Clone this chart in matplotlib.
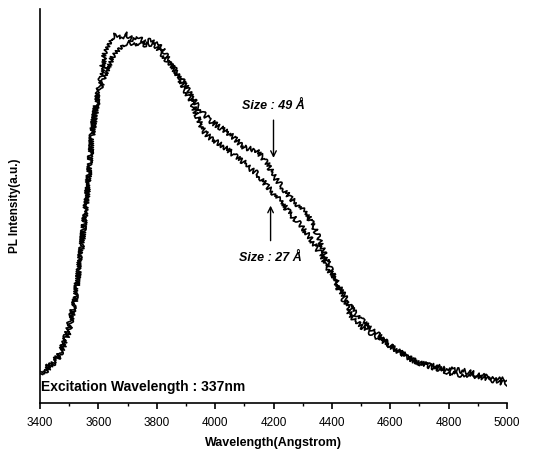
import matplotlib
matplotlib.use("Agg")
import matplotlib.pyplot as plt
import numpy as np

wavelength = list(range(3400, 5001, 20))

size27 = [0.080, 0.088, 0.100, 0.118, 0.150, 0.200, 0.265, 0.380, 0.520, 0.700,
          0.790, 0.880, 0.925, 0.935, 0.930, 0.935, 0.920, 0.925, 0.915, 0.920,
          0.905, 0.885, 0.865, 0.845, 0.820, 0.790, 0.765, 0.725, 0.690, 0.675,
          0.665, 0.655, 0.645, 0.632, 0.620, 0.610, 0.595, 0.585, 0.568, 0.550,
          0.532, 0.515, 0.497, 0.478, 0.462, 0.445, 0.425, 0.402, 0.380, 0.352,
          0.325, 0.295, 0.262, 0.230, 0.208, 0.195, 0.185, 0.175, 0.165, 0.155,
          0.145, 0.135, 0.125, 0.115, 0.108, 0.102, 0.097, 0.092, 0.088, 0.084,
          0.078, 0.074, 0.072, 0.070, 0.068, 0.066, 0.063, 0.060, 0.057, 0.052,
          0.050]

size49 = [0.075, 0.082, 0.095, 0.112, 0.140, 0.185, 0.260, 0.380, 0.515, 0.690,
          0.780, 0.830, 0.865, 0.890, 0.910, 0.915, 0.912, 0.915, 0.910, 0.912,
          0.910, 0.898, 0.870, 0.848, 0.828, 0.805, 0.775, 0.755, 0.735, 0.718,
          0.708, 0.698, 0.688, 0.676, 0.662, 0.648, 0.645, 0.642, 0.625, 0.605,
          0.578, 0.558, 0.538, 0.520, 0.505, 0.490, 0.472, 0.445, 0.410, 0.368,
          0.330, 0.302, 0.275, 0.248, 0.228, 0.212, 0.198, 0.185, 0.172, 0.158,
          0.146, 0.136, 0.126, 0.117, 0.108, 0.102, 0.098, 0.095, 0.092, 0.089,
          0.086, 0.084, 0.082, 0.080, 0.076, 0.072, 0.069, 0.066, 0.063, 0.060,
          0.058]

xticks = [3400, 3600, 3800, 4000, 4200, 4400, 4600, 4800, 5000]

plt.rcParams['font.family'] = ['Liberation Sans', 'DejaVu Sans']

fig = plt.figure(figsize=(5.46, 4.55), dpi=100)
ax = fig.add_axes([40/546, 52/455, 467/546, 394/455])

for ys in (size27, size49):
    ln, = ax.plot(wavelength, ys, color='black', lw=1.2)
    ln.set_sketch_params(scale=2.6, length=2.0, randomness=8)

ax.set_xlim(3400, 5000)
ax.set_ylim(0, 1)
ax.spines['top'].set_visible(False)
ax.spines['right'].set_visible(False)
ax.spines['left'].set_linewidth(1.2)
ax.spines['bottom'].set_linewidth(1.2)
ax.set_yticks([])
ax.set_xticks(xticks)
ax.set_xticklabels([str(t) for t in xticks], fontsize=8.5)
ax.set_xticks(list(range(3500, 5000, 200)), minor=True)
ax.tick_params(axis='x', which='major', direction='out', length=4, width=1.2, pad=6)
ax.tick_params(axis='x', which='minor', direction='out', length=2.5, width=1.0)

ax.set_xlabel('Wavelength(Angstrom)', fontsize=9, fontweight='bold', labelpad=6)
ax.set_ylabel('PL Intensity(a.u.)', fontsize=8.5, fontweight='bold', labelpad=14)

ax.text(3402, 0.04, 'Excitation Wavelength : 337nm', fontsize=10, fontweight='bold',
        va='center', ha='left')

ax.text(4200, 0.755, 'Size : 49 Å', fontsize=9, fontweight='bold', style='italic',
        ha='center', va='center')
ax.text(4190, 0.367, 'Size : 27 Å', fontsize=9, fontweight='bold', style='italic',
        ha='center', va='center')
ax.annotate('', xy=(4200, 0.615), xytext=(4200, 0.725),
            arrowprops=dict(arrowstyle='->', color='black', lw=1.0))
ax.annotate('', xy=(4190, 0.508), xytext=(4190, 0.405),
            arrowprops=dict(arrowstyle='->', color='black', lw=1.0))

fig.savefig('out.png', dpi=100)
